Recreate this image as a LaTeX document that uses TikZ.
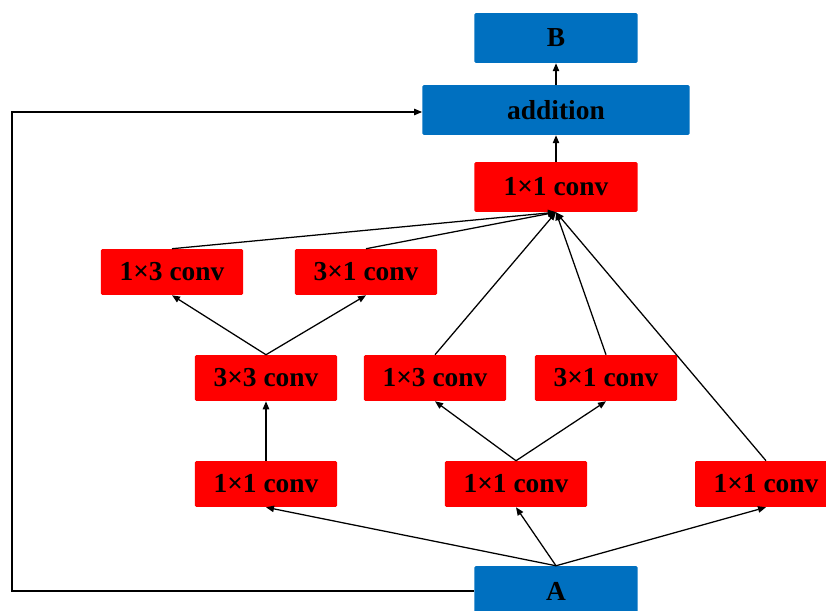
\documentclass[tikz,border=0pt]{standalone}
\usepackage{fontspec}
\setmainfont{Liberation Serif}
\usetikzlibrary{arrows.meta, positioning}
\definecolor{blkblue}{RGB}{0,112,192}
\definecolor{convred}{RGB}{255,0,0}

\begin{document}
\begin{tikzpicture}[x=0.025cm, y=-0.025cm,
  io/.style={fill=blkblue, rounded corners=1pt, inner sep=0pt, minimum width=116pt, minimum height=35.5pt, font=\fontsize{19.5}{23}\selectfont\bfseries},
  cv/.style={fill=convred, rounded corners=1pt, inner sep=0pt, minimum width=101pt, minimum height=32.7pt, font=\fontsize{19.5}{23}\selectfont\bfseries},
  arr/.style={-{Triangle[length=2mm, width=1.6mm]}, line width=0.9pt}
]
  \useasboundingbox (0,0) rectangle (826,610);

  % output side
  \node[io] (B) at (556,38) {B};
  \node[io, minimum width=190pt] (add) at (556,110) {addition};
  \node[cv, minimum width=116pt, minimum height=35.5pt] (fuse) at (556,187) {1×1 conv};

  % branches
  \node[cv] (c13a) at (172,272) {1×3 conv};
  \node[cv] (c31a) at (366,272) {3×1 conv};
  \node[cv] (c33) at (266,378) {3×3 conv};
  \node[cv] (c13b) at (435,378) {1×3 conv};
  \node[cv] (c31b) at (606,378) {3×1 conv};
  \node[cv] (c11a) at (266,484) {1×1 conv};
  \node[cv] (c11b) at (516,484) {1×1 conv};
  \node[cv] (c11c) at (766,484) {1×1 conv};

  % input
  \node[io] (A) at (556,591) {A};

  \draw[arr] (A.north) -- (c11a.south);
  \draw[arr] (A.north) -- (c11b.south);
  \draw[arr] (A.north) -- (c11c.south);
  \draw[arr] (c11a.north) -- (c33.south);
  \draw[arr] (c11b.north) -- (c13b.south);
  \draw[arr] (c11b.north) -- (c31b.south);
  \draw[arr] (c33.north) -- (c13a.south);
  \draw[arr] (c33.north) -- (c31a.south);

  \draw[arr] (c13a.north) -- (fuse.south);
  \draw[arr] (c31a.north) -- (fuse.south);
  \draw[arr] (c13b.north) -- (fuse.south);
  \draw[arr] (c31b.north) -- (fuse.south);
  \draw[arr] (c11c.north) -- (fuse.south);

  \draw[arr] (fuse.north) -- (add.south);
  \draw[arr] (add.north) -- (B.south);

  % shortcut
  \draw[arr] (A.west) -| (12,112) -- (add.west |- 0,112);
\end{tikzpicture}
\end{document}
